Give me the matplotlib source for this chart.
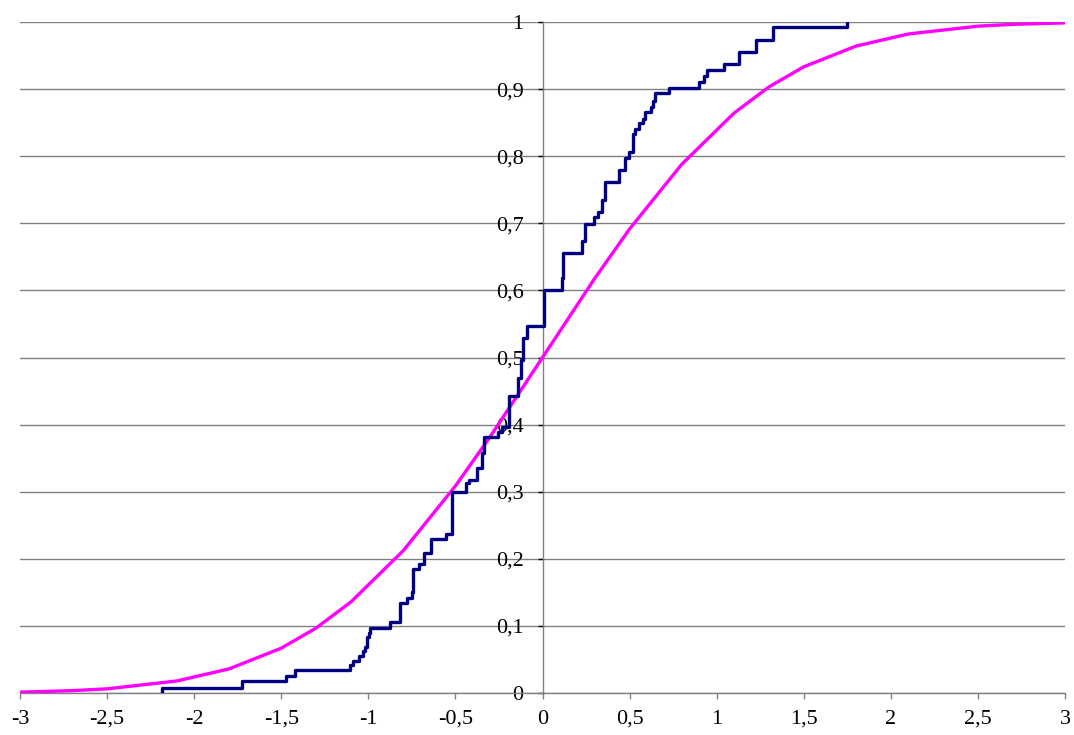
import matplotlib
matplotlib.use("Agg")
import matplotlib.pyplot as plt

# empirical distribution: x where each jump happens, level after the jump
emp_x = [-2.185, -1.727, -1.473, -1.421, -1.106, -1.087, -1.053, -1.03, -1.02,
         -1.01, -1.005, -0.998, -0.99, -0.877, -0.82, -0.778, -0.749, -0.742,
         -0.709, -0.68, -0.638, -0.556, -0.518, -0.437, -0.422, -0.376, -0.346,
         -0.335, -0.256, -0.231, -0.195, -0.138, -0.122, -0.113, -0.09, 0.006,
         0.113, 0.12, 0.227, 0.245, 0.298, 0.321, 0.34, 0.359, 0.441, 0.476,
         0.499, 0.518, 0.533, 0.556, 0.575, 0.59, 0.623, 0.632, 0.648, 0.728,
         0.9, 0.928, 0.947, 1.043, 1.129, 1.225, 1.326, 1.75]
emp_y = [0.0075, 0.018, 0.025, 0.034, 0.041, 0.048, 0.055, 0.062, 0.069,
         0.076, 0.083, 0.090, 0.097, 0.106, 0.134, 0.141, 0.151, 0.185,
         0.192, 0.209, 0.229, 0.237, 0.300, 0.3125, 0.318, 0.335, 0.357,
         0.381, 0.389, 0.397, 0.443, 0.469, 0.496, 0.529, 0.547, 0.601,
         0.618, 0.655, 0.673, 0.699, 0.709, 0.717, 0.735, 0.762, 0.780, 0.797,
         0.807, 0.833, 0.840, 0.849, 0.856, 0.866, 0.874, 0.883, 0.894, 0.901,
         0.911, 0.920, 0.928, 0.938, 0.956, 0.973, 0.992, 1.0]

# theoretical curve
th_x = [-3, -2.7, -2.5, -2.1, -1.8, -1.5, -1.3, -1.1, -0.8, -0.5, -0.3, 0,
        0.3, 0.5, 0.8, 1.1, 1.3, 1.5, 1.8, 2.1, 2.5, 2.7, 3]
th_y = [0.0013, 0.0035, 0.0062, 0.0179, 0.0359, 0.0668, 0.0968, 0.1357,
        0.2119, 0.3085, 0.3821, 0.5, 0.6179, 0.6915, 0.7881, 0.8643, 0.9032,
        0.9332, 0.9641, 0.9821, 0.9938, 0.9965, 0.9987]

x_ticks = [-3, -2.5, -2, -1.5, -1, -0.5, 0, 0.5, 1, 1.5, 2, 2.5, 3]
y_ticks = [0, 0.1, 0.2, 0.3, 0.4, 0.5, 0.6, 0.7, 0.8, 0.9, 1]


def comma(v):
    s = f"{v:g}"
    return s.replace(".", ",")


plt.rcParams['font.family'] = ['Liberation Serif', 'DejaVu Serif']

fig = plt.figure(figsize=(10.74, 7.35), dpi=100)
ax = fig.add_axes([20 / 1074, 42 / 735, 1045 / 1074, 671 / 735])

for yv in y_ticks:
    ax.axhline(yv, color='#808080', linewidth=1.0, zorder=1)

ax.plot(th_x, th_y, color='#ff00ff', linewidth=2.4, zorder=3)
ax.step([emp_x[0]] + emp_x, [0] + emp_y, where='post',
        color='#000080', linewidth=2.4, zorder=4)

ax.set_xlim(-3, 3)
ax.set_ylim(0, 1)

ax.spines['left'].set_position(('data', 0))
ax.spines['bottom'].set_position(('data', 0))
ax.spines['right'].set_visible(False)
ax.spines['top'].set_visible(False)
for sp in ('left', 'bottom'):
    ax.spines[sp].set_color('#808080')
    ax.spines[sp].set_linewidth(1.0)

ax.set_xticks(x_ticks)
ax.set_xticklabels([comma(v) for v in x_ticks])
ax.set_yticks(y_ticks)
ax.set_yticklabels([comma(v) for v in y_ticks])
ax.tick_params(axis='x', direction='out', length=4, width=1, color='#808080',
               labelsize=16, pad=8)
ax.tick_params(axis='y', direction='out', length=3.6, width=1, color='black',
               labelsize=16, pad=10)
for lab in ax.get_yticklabels():
    lab.set_zorder(2)

fig.savefig("out.png", dpi=100)
